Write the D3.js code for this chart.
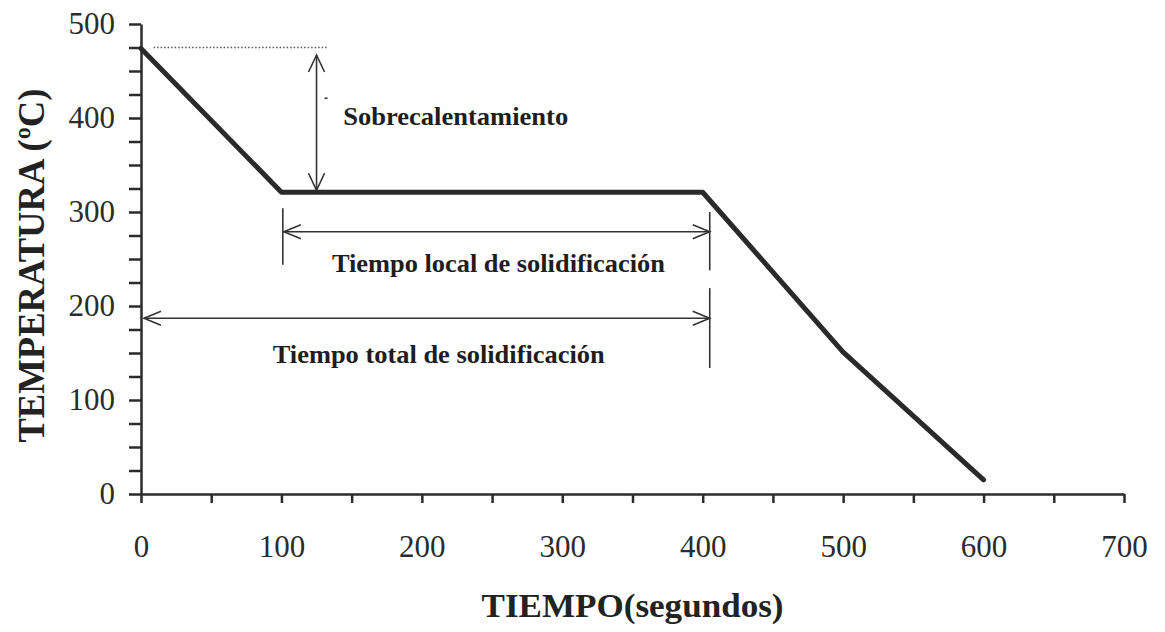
<!DOCTYPE html>
<html lang="es">
<head>
  <meta charset="UTF-8">
  <title>Curva de enfriamiento</title>
  <style>
    html, body { margin: 0; padding: 0; background: #fff; }
    svg { display: block; }
    text { font-family: "Liberation Serif", "Times New Roman", serif; fill: #222; }
    .axis path, .axis line { stroke: #2b2b2b; stroke-width: 2.5px; }
    .axis text { font-size: 31px; fill: #2b2b2b; }
    .title { font-weight: bold; }
    .note { font-weight: bold; font-size: 25px; fill: #1e1e1e; }
    .arrow { stroke: #333; stroke-width: 1.6px; fill: none; }
  </style>
  <script src="https://d3js.org/d3.v7.min.js"></script>
</head>
<body>
  <div id="chart"></div>
  <script>
  // curve points: time (s) and temperature (ºC)
  const timeS = [0, 100, 400, 500, 600];
  const tempC = [474, 321, 321, 151, 15];

  const xTicks = d3.range(0, 701, 50);
  const yTicks = d3.range(0, 501, 25);

  // superheat level and arrow
  const superheatLine = { t0: 9, t1: 133, temp: 475 };
  const superheatArrow = { t: 125, top: 467, bottom: 321 };

  // solidification time spans
  const localSpan = { t0: 101, t1: 405, temp: 279 };
  const totalSpan = { t0: 0, t1: 405, temp: 187 };

  const labels = [
    { text: 'Sobrecalentamiento', t: 144, temp: 393, anchor: 'start', len: 225 },
    { text: 'Tiempo local de solidificación', t: 254.5, temp: 236, anchor: 'middle', len: 333 },
    { text: 'Tiempo total de solidificación', t: 212, temp: 139, anchor: 'middle', len: 332 }
  ];

  const W = 1165, H = 632;
  const svg = d3.select('#chart').append('svg')
    .attr('width', W).attr('height', H);

  const x = d3.scaleLinear().domain([0, 700]).range([141, 1124]);
  const y = d3.scaleLinear().domain([0, 500]).range([494, 24]);

  // axes
  svg.append('g')
    .attr('class', 'axis')
    .attr('transform', `translate(0,${y(0)})`)
    .call(d3.axisBottom(x).tickValues(xTicks)
      .tickFormat(d => d % 100 ? '' : d)
      .tickSize(9).tickSizeOuter(0).tickPadding(32));

  svg.append('g')
    .attr('class', 'axis')
    .attr('transform', `translate(${x(0)},0)`)
    .call(d3.axisLeft(y).tickValues(yTicks)
      .tickFormat(d => d % 100 ? '' : d)
      .tickSize(12).tickSizeOuter(0).tickPadding(14));

  // axis titles
  svg.append('text')
    .attr('class', 'title')
    .attr('x', (x(0) + x(700)) / 2).attr('y', 617)
    .attr('text-anchor', 'middle')
    .attr('font-size', 34)
    .attr('textLength', 302).attr('lengthAdjust', 'spacingAndGlyphs')
    .text('TIEMPO(segundos)');

  svg.append('text')
    .attr('class', 'title')
    .attr('transform', `translate(44,${y(243)}) rotate(-90)`)
    .attr('text-anchor', 'middle')
    .attr('font-size', 37)
    .attr('textLength', 354).attr('lengthAdjust', 'spacingAndGlyphs')
    .text('TEMPERATURA (ºC)');

  // cooling curve
  const line = d3.line().x(d => x(d[0])).y(d => y(d[1]));
  svg.append('path')
    .datum(d3.zip(timeS, tempC))
    .attr('d', line)
    .attr('fill', 'none')
    .attr('stroke', '#2a2a2a')
    .attr('stroke-width', 5)
    .attr('stroke-linejoin', 'round')
    .attr('stroke-linecap', 'round');

  // dotted superheat level
  svg.append('line')
    .attr('x1', x(superheatLine.t0)).attr('x2', x(superheatLine.t1))
    .attr('y1', y(superheatLine.temp)).attr('y2', y(superheatLine.temp))
    .attr('stroke', '#555').attr('stroke-width', 1.3)
    .attr('stroke-dasharray', '1.5,2');

  // chevron arrowhead at (px,py) pointing in direction (dx,dy)
  function head(g, px, py, dx, dy, len, half) {
    const ox = -dx * len, oy = -dy * len;
    const nx = -dy * half, ny = dx * half;
    g.append('path')
      .attr('class', 'arrow')
      .attr('d', `M${px + ox + nx},${py + oy + ny}L${px},${py}L${px + ox - nx},${py + oy - ny}`);
  }

  const ann = svg.append('g');

  // vertical superheat arrow
  const sx = x(superheatArrow.t);
  const sTop = y(superheatArrow.top), sBot = y(superheatArrow.bottom) - 2;
  ann.append('line').attr('class', 'arrow')
    .attr('x1', sx).attr('x2', sx).attr('y1', sTop).attr('y2', sBot);
  head(ann, sx, sTop, 0, -1, 17, 8);
  head(ann, sx, sBot, 0, 1, 17, 8);
  ann.append('line').attr('class', 'arrow')
    .attr('x1', sx + 8).attr('x2', sx + 11)
    .attr('y1', y(421)).attr('y2', y(421));

  // horizontal span arrows
  function span(s, tickTop, tickBottom, leftTick) {
    const x0 = x(s.t0) + (leftTick ? 1 : 3), x1 = x(s.t1), yy = y(s.temp);
    ann.append('line').attr('class', 'arrow')
      .attr('x1', x0).attr('x2', x1).attr('y1', yy).attr('y2', yy);
    head(ann, x0, yy, -1, 0, 17, 7);
    head(ann, x1, yy, 1, 0, 17, 7);
    if (leftTick) {
      ann.append('line').attr('class', 'arrow')
        .attr('x1', x(s.t0)).attr('x2', x(s.t0))
        .attr('y1', y(tickTop[0])).attr('y2', y(tickBottom[0]));
    }
    ann.append('line').attr('class', 'arrow')
      .attr('x1', x1).attr('x2', x1)
      .attr('y1', y(tickTop[1])).attr('y2', y(tickBottom[1]));
  }
  span(localSpan, [304, 300], [244, 238], true);
  span(totalSpan, [null, 219], [null, 134], false);

  // annotation labels
  ann.selectAll('text.note')
    .data(labels)
    .join('text')
      .attr('class', 'note')
      .attr('x', d => x(d.t))
      .attr('y', d => y(d.temp))
      .attr('text-anchor', d => d.anchor)
      .attr('textLength', d => d.len)
      .attr('lengthAdjust', 'spacingAndGlyphs')
      .text(d => d.text);
  </script>
</body>
</html>
